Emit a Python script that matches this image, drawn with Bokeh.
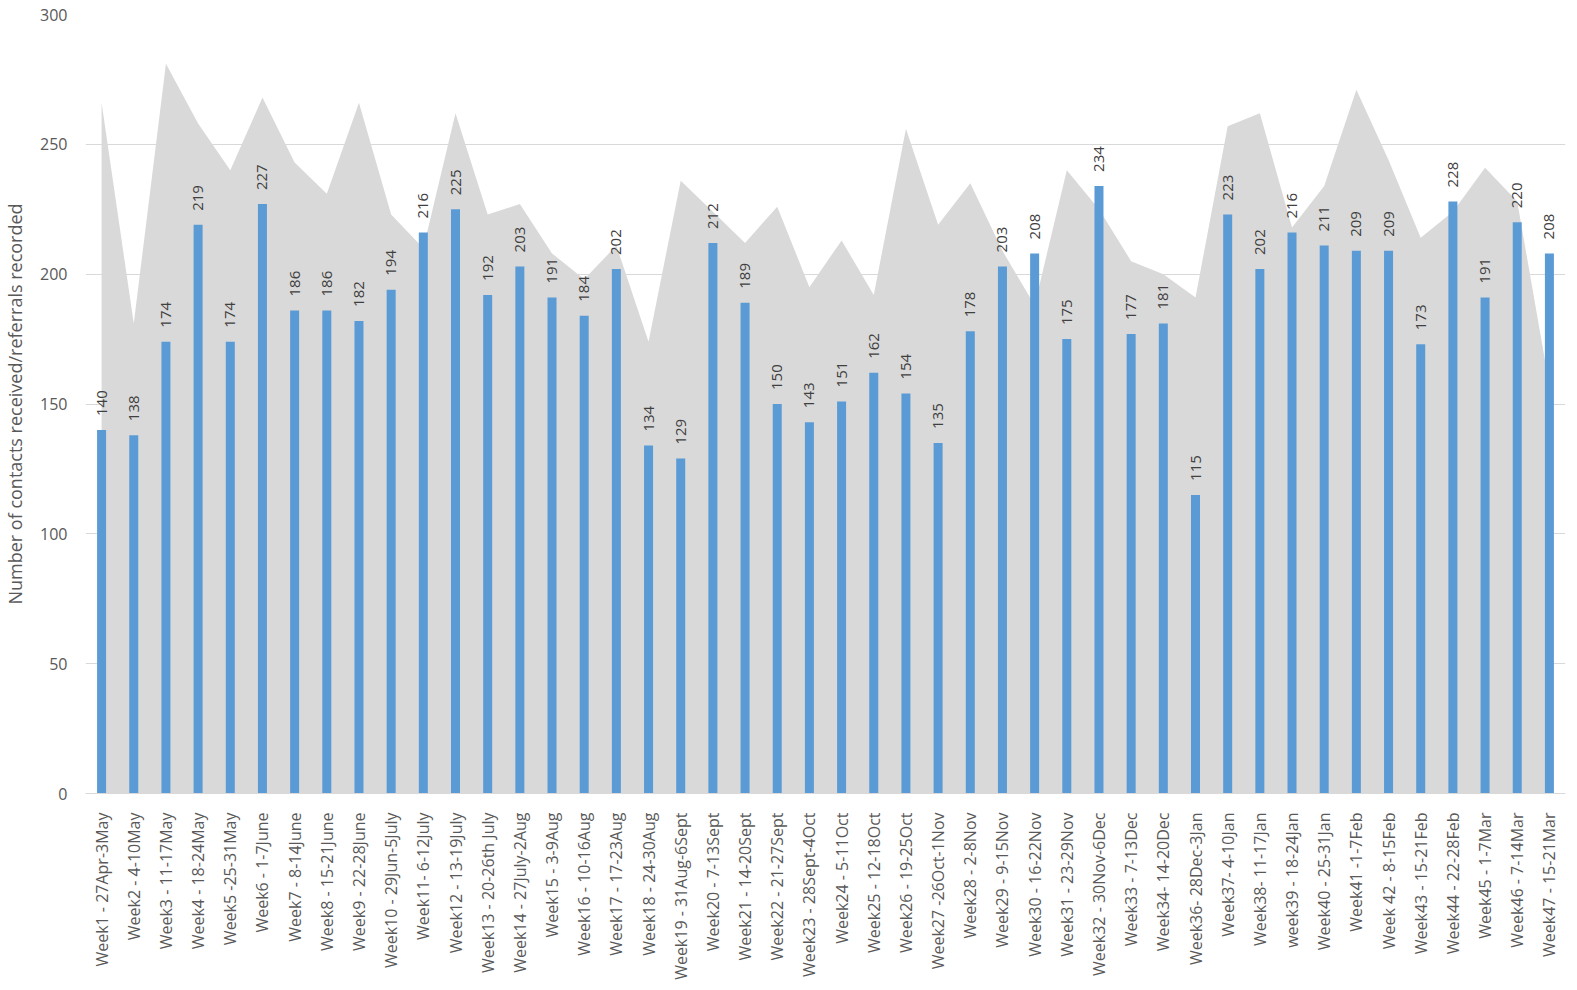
import math
from bokeh.plotting import figure
from bokeh.models import ColumnDataSource, FactorRange, Range1d, SingleIntervalTicker
from bokeh.core.properties import value
from bokeh.embed import file_html
from bokeh.resources import INLINE

weeks = [
    "Week1 - 27Apr-3May", "Week2 - 4-10May", "Week3 - 11-17May", "Week4 - 18-24May",
    "Week5 -25-31May", "Week6 - 1-7June", "Week7 - 8-14June", "Week8 - 15-21June",
    "Week9 - 22-28June", "Week10 - 29Jun-5July", "Week11- 6-12July", "Week12 - 13-19July",
    "Week13 - 20-26th July", "Week14 - 27July-2Aug", "Week15 - 3-9Aug", "Week16 - 10-16Aug",
    "Week17 - 17-23Aug", "Week18 - 24-30Aug", "Week19 - 31Aug-6Sept", "Week20 - 7-13Sept",
    "Week21 - 14-20Sept", "Week22 - 21-27Sept", "Week23 - 28Sept-4Oct", "Week24 - 5-11Oct",
    "Week25 - 12-18Oct", "Week26 - 19-25Oct", "Week27 -26Oct-1Nov", "Week28 - 2-8Nov",
    "Week29 - 9-15Nov", "Week30 - 16-22Nov", "Week31 - 23-29Nov", "Week32 - 30Nov-6Dec",
    "Week33 - 7-13Dec", "Week34- 14-20Dec", "Week36- 28Dec-3Jan", "Week37- 4-10Jan",
    "Week38- 11-17Jan", "week39 - 18-24Jan", "Week40 - 25-31Jan", "Week41 -1-7Feb",
    "Week 42 - 8-15Feb", "Week43 - 15-21Feb", "Week44 - 22-28Feb", "Week45 - 1-7Mar",
    "Week46 - 7-14Mar", "Week47 - 15-21Mar",
]

contacts = [
    140, 138, 174, 219, 174, 227, 186, 186, 182, 194, 216, 225, 192, 203, 191, 184,
    202, 134, 129, 212, 189, 150, 143, 151, 162, 154, 135, 178, 203, 208, 175, 234,
    177, 181, 115, 223, 202, 216, 211, 209, 209, 173, 228, 191, 220, 208,
]

background = [
    266, 181, 281, 258, 240, 268, 243, 231, 266, 223, 210, 262, 223, 227, 208, 198,
    211, 174, 236, 224, 212, 226, 195, 213, 192, 256, 219, 235, 209, 188, 240, 225,
    205, 200, 191, 257, 262, 218, 234, 271, 244, 214, 224, 241, 228, 157,
]

FONT = "Open Sans"

src = ColumnDataSource(dict(x=weeks, bar=contacts, area=background,
                            lbl=[str(v) for v in contacts]))

p = figure(x_range=FactorRange(*weeks, range_padding=0), y_range=Range1d(0, 300),
           width=1569, height=988, output_backend="svg", toolbar_location=None,
           min_border_left=85, min_border_right=4, min_border_top=14, min_border_bottom=195)

p.varea(x="x", y1=0, y2="area", source=src, fill_color="#D9D9D9")
p.vbar(x="x", top="bar", width=0.28, source=src, fill_color="#5B9BD5", line_color=None)
p.text(x="x", y="bar", text="lbl", source=src, angle=math.pi / 2,
       text_align="left", text_baseline="middle", x_offset=0, y_offset=-14,
       text_font=value(FONT), text_font_size="15px", text_color="#404040")

p.outline_line_color = None
p.background_fill_color = "white"
p.border_fill_color = "white"

p.ygrid.grid_line_color = "#D9D9D9"
p.ygrid.grid_line_width = 1
p.xgrid.grid_line_color = None

p.yaxis.ticker = SingleIntervalTicker(interval=50)
p.yaxis.axis_line_color = None
p.yaxis.major_tick_line_color = None
p.yaxis.minor_tick_line_color = None
p.yaxis.major_tick_out = 0
p.yaxis.major_tick_in = 0
p.yaxis.minor_tick_out = 0
p.yaxis.major_label_text_font = FONT
p.yaxis.major_label_text_font_size = "16px"
p.yaxis.major_label_text_color = "#595959"
p.yaxis.major_label_standoff = 18
p.yaxis.axis_label = "Number of contacts received/referrals recorded"
p.yaxis.axis_label_text_font = FONT
p.yaxis.axis_label_text_font_size = "18px"
p.yaxis.axis_label_text_font_style = "normal"
p.yaxis.axis_label_text_color = "#595959"
p.yaxis.axis_label_standoff = 10

p.xaxis.axis_line_color = "#D9D9D9"
p.xaxis.major_tick_line_color = None
p.xaxis.minor_tick_line_color = None
p.xaxis.major_tick_out = 0
p.xaxis.major_tick_in = 0
p.xaxis.major_label_orientation = math.pi / 2
p.xaxis.major_label_text_font = FONT
p.xaxis.major_label_text_font_size = "16px"
p.xaxis.major_label_text_color = "#595959"
p.xaxis.major_label_standoff = 19

open("out.html", "w").write(file_html(p, INLINE))
